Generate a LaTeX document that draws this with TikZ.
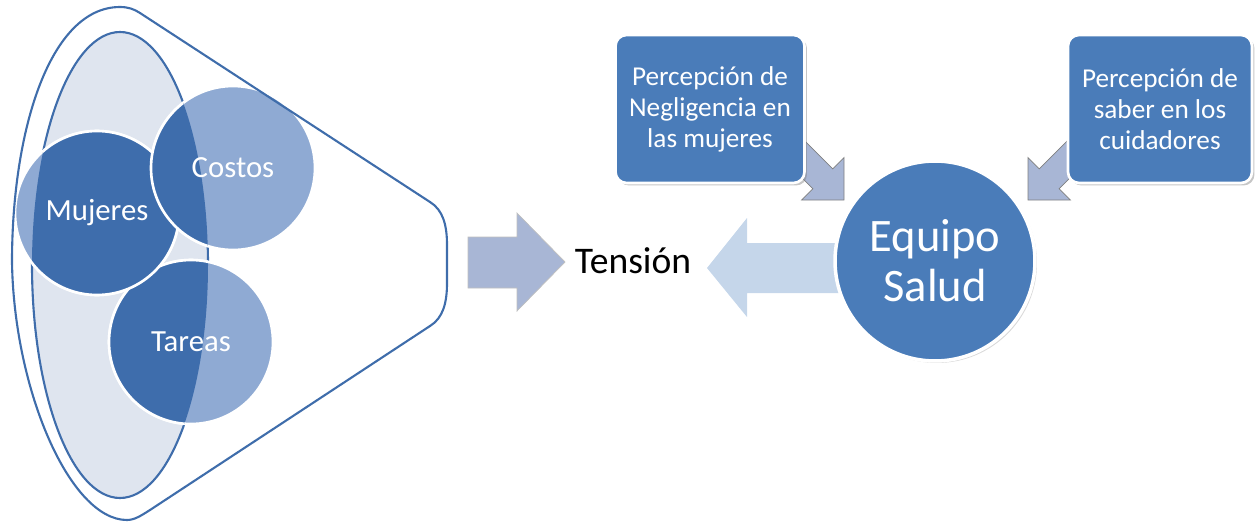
\documentclass[tikz,border=0pt]{standalone}
\usepackage{fontspec}
\setmainfont{Carlito}
\usepackage{tikz}
\usetikzlibrary{arrows,positioning,calc,shadows}

\definecolor{boxblue}{HTML}{4A7CB9}
\definecolor{circdark}{HTML}{3E6DAC}
\definecolor{circlight}{HTML}{8FAAD3}
\definecolor{ellfill}{HTML}{DFE5EF}
\definecolor{lineblue}{HTML}{3F6DAB}
\definecolor{arrowgray}{HTML}{A8B6D5}
\definecolor{arrowlight}{HTML}{C5D6EA}

\begin{document}
\begin{tikzpicture}[x=0.02cm,y=-0.02cm,
  bubble/.style={circle,minimum size=3.28cm,inner sep=0pt,draw=white,line width=1.5pt},
  bubbletext/.style={text=white,font=\fontsize{17.5}{20}\selectfont},
  percbox/.style={rectangle,rounded corners=0.22cm,fill=boxblue,draw=white,line width=1.5pt,
    minimum height=2.96cm,text=white,align=center,font=\fontsize{15.5}{17.6}\selectfont,
    drop shadow={shadow xshift=0.05cm,shadow yshift=-0.05cm,opacity=0.45}},
  smallarrow/.style={fill=arrowgray,draw=black!50,line width=0.4pt}]
\useasboundingbox (0,0) rectangle (1255,521);

% left part: funnel with the three circles
\draw[fill=ellfill,draw=lineblue,line width=1.2pt] (120,265) ellipse [x radius=88,y radius=233];
\node[bubble,fill=circlight] (tareas) at (191,342) {};
\node[bubble,fill=circlight] (mujeres) at (97,213) {};
\node[bubble,fill=circlight] (costos) at (233,168) {};
\begin{scope}
\clip (120,265) ellipse [x radius=88,y radius=233];
\foreach \c in {tareas,mujeres,costos}
  \filldraw[fill=circdark,draw=white,line width=1.5pt] (\c.center) circle (82);
\end{scope}
\node[bubbletext] (mujerestxt) at (mujeres) {Mujeres};
\node[bubbletext] (costostxt) at (costos) {Costos};
\node[bubbletext] (tareastxt) at (tareas) {Tareas};
\draw[lineblue,line width=1.2pt] (140,13) -- (430,202) .. controls (443,210) and (447,225) .. (447,245)
  -- (447,283) .. controls (447,303) and (443,318) .. (430,326) -- (150,510)
  .. controls (142,515) and (135,520) .. (127,520) .. controls (70,520) and (14,390) .. (12,262)
  .. controls (12,130) and (50,7) .. (120,7) .. controls (128,7) and (134,9) .. cycle;

% middle
\draw[fill=arrowgray,draw=black!25] (468,237) -- (517,237) -- (517,213) -- (565,262)
  -- (517,311) -- (517,288) -- (468,288) -- cycle;
\node[anchor=base,font=\fontsize{21.4}{24}\selectfont] (tension) at (633,273) {Tensión};
\fill[arrowlight] (850,243) -- (747,243) -- (747,218) -- (707,268) -- (747,317) -- (747,293) -- (850,293) -- cycle;

% right part
\node[circle,minimum size=4cm,inner sep=0pt,fill=boxblue,draw=white,line width=2pt,
  drop shadow={shadow xshift=0.04cm,shadow yshift=-0.04cm,opacity=0.3},
  text=white,align=center,font=\fontsize{26.5}{28.3}\selectfont] (equipo) at (935,261) {Equipo\\Salud};
\begin{scope}[shift={($(equipo.center)+(-91,-61)$)},rotate=-45]
\draw[smallarrow] (0,0) -- (-30,-30) -- (-30,-14) -- (-80,-14) -- (-80,14) -- (-30,14) -- (-30,30) -- cycle;
\end{scope}
\begin{scope}[shift={($(equipo.center)+(93,-61)$)},rotate=-135]
\draw[smallarrow] (0,0) -- (-30,-30) -- (-30,-14) -- (-80,-14) -- (-80,14) -- (-30,14) -- (-30,30) -- cycle;
\end{scope}
\node[percbox,minimum width=3.78cm] (negligencia) at (710,109) {Percepción de\\Negligencia en\\las mujeres};
\node[percbox,minimum width=3.68cm] (saber) at (1160,109) {Percepción de\\saber en los\\cuidadores};
\end{tikzpicture}
\end{document}
